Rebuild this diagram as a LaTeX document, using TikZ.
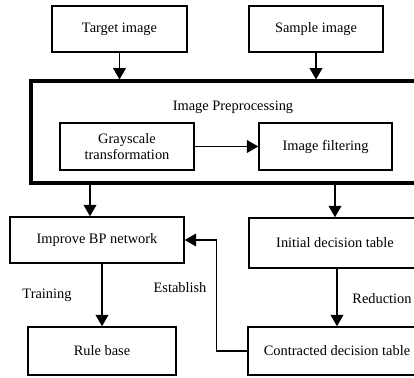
\documentclass[tikz,border=0pt]{standalone}
\usepackage{fontspec}
\setmainfont{Liberation Serif}
\usetikzlibrary{arrows.meta}
\tikzset{
  blk/.style={draw,line width=1.1pt,inner sep=0pt,align=center},
  arr/.style={line width=1.1pt,-{Triangle[width=9.5pt,length=8.5pt]}},
  lbl/.style={inner sep=0pt}
}

\begin{document}
\begin{tikzpicture}[x=0.75pt,y=-0.75pt,font=\fontsize{10.8}{12.5}\selectfont]
\clip (0,0) rectangle (414,378);
\node[blk,minimum width=101.25pt,minimum height=34.5pt] (target) at (119.5,29) {Target image};
\node[blk,minimum width=100.5pt,minimum height=34.5pt] (sample) at (316,29) {Sample image};
\node[draw,line width=2.3pt,minimum width=299.25pt,minimum height=76.5pt] (prep) at (230.5,132) {};
\node[lbl] (preptitle) at (233,107) {Image Preprocessing};
\node[blk,minimum width=100.5pt,minimum height=35.25pt] (gray) at (127,146.5) {Grayscale\\transformation};
\node[blk,minimum width=99.75pt,minimum height=35.25pt] (filter) at (325.5,146.5) {Image filtering};
\node[blk,minimum width=130.5pt,minimum height=34.5pt] (bp) at (97,240) {Improve BP network};
\node[blk,minimum width=129pt,minimum height=37.5pt] (init) at (335,243) {Initial decision table};
\node[blk,minimum width=111pt,minimum height=36pt] (rule) at (102,351) {Rule base};
\node[blk,minimum width=133.5pt,minimum height=36pt] (contr) at (337,351) {Contracted decision table};
\draw[arr] (target.south) -- (target.south |- prep.north);
\draw[arr] (sample.south) -- (sample.south |- prep.north);
\draw[arr] (gray.east) -- (filter.west);
\draw[arr] ([xshift=-5.25pt]bp.north |- prep.south) -- ([xshift=-5.25pt]bp.north);
\draw[arr] (init.north |- prep.south) -- (init.north);
\draw[arr] (rule.north |- bp.south) -- (rule.north);
\draw[arr] (contr.north |- init.south) -- (contr.north);
\draw[arr] (contr.west) -- ++(-31,0) |- (bp.east);
\node[lbl] (training) at (47,295) {Training};
\node[lbl] (establish) at (180,288) {Establish};
\node[lbl] (reduction) at (382,299) {Reduction};
\end{tikzpicture}
\end{document}
